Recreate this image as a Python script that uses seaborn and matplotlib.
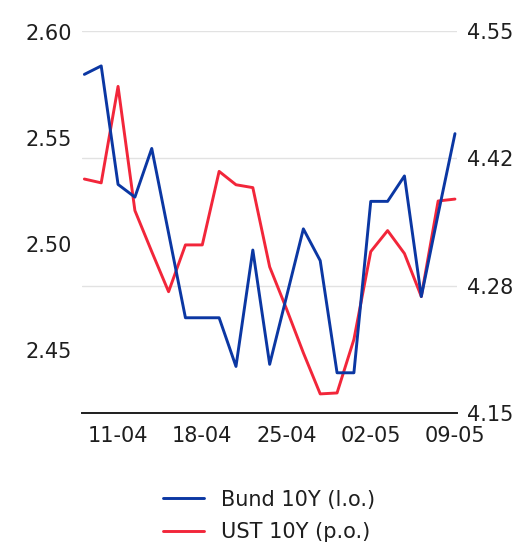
import pandas as pd
import seaborn as sns
import matplotlib.pyplot as plt

# business days 09-04 .. 09-05
dates = ['09-04', '10-04', '11-04', '14-04', '15-04', '16-04', '17-04', '18-04',
         '21-04', '22-04', '23-04', '24-04', '25-04', '28-04', '29-04', '30-04',
         '01-05', '02-05', '05-05', '06-05', '07-05', '08-05', '09-05']
bund_10y = [2.580, 2.584, 2.528, 2.522, 2.545, 2.505, 2.465, 2.465, 2.465, 2.442,
            2.497, 2.443, 2.475, 2.507, 2.492, 2.439, 2.439, 2.520, 2.520, 2.532,
            2.475, 2.514, 2.552]
ust_10y = [4.395, 4.391, 4.492, 4.362, 4.319, 4.277, 4.326, 4.326, 4.403, 4.389,
           4.386, 4.303, 4.259, 4.213, 4.170, 4.171, 4.227, 4.319, 4.341, 4.317,
           4.272, 4.372, 4.374]
tick_dates = ['11-04', '18-04', '25-04', '02-05', '09-05']
left_ticks = [2.45, 2.50, 2.55, 2.60]
right_ticks = [4.15, 4.2833, 4.4167, 4.55]
right_labels = ['4.15', '4.28', '4.42', '4.55']

df = pd.DataFrame({'pos': range(len(dates)), 'date': dates,
                   'bund': bund_10y, 'ust': ust_10y})

sns.set_theme(style='white')
plt.rcParams['font.family'] = ['DejaVu Sans']
text_col = '#1e1e1e'
blue = '#0b37a3'
red = '#f2263a'

fig = plt.figure(figsize=(5.14, 5.43), dpi=100)
ax = fig.add_axes([82 / 514, 130 / 543, 375 / 514, 382 / 543])
ax2 = ax.twinx()

sns.lineplot(data=df, x='pos', y='ust', ax=ax2, color=red, linewidth=2.1,
             label='UST 10Y (p.o.)', legend=False)
sns.lineplot(data=df, x='pos', y='bund', ax=ax, color=blue, linewidth=2.1,
             label='Bund 10Y (l.o.)', legend=False)

# blue on top of red
ax.set_zorder(ax2.get_zorder() + 1)
ax.patch.set_visible(False)

ax.set_xlim(-0.14, 22.12)
ax.set_ylim(2.420, 2.6005)
ax2.set_ylim(4.15, 4.55)

ax.set_yticks(left_ticks)
ax.set_yticklabels([f'{v:.2f}' for v in left_ticks])
ax2.set_yticks(right_ticks)
ax2.set_yticklabels(right_labels)
ax.set_xticks([dates.index(d) for d in tick_dates])
ax.set_xticklabels(tick_dates)

ax2.grid(axis='y', color='#e2e2e2', linewidth=1.0)
ax2.set_axisbelow(True)
ax.grid(False)

for s in ['left', 'right', 'top']:
    ax.spines[s].set_visible(False)
for s in ax2.spines.values():
    s.set_visible(False)
ax.spines['bottom'].set_color(text_col)
ax.spines['bottom'].set_linewidth(1.4)

ax.tick_params(axis='y', length=0, pad=7, labelsize=15, labelcolor=text_col)
ax2.tick_params(axis='y', length=0, pad=7, labelsize=15, labelcolor=text_col)
ax.tick_params(axis='x', direction='in', length=7, width=1.0, color=text_col,
               pad=9, labelsize=15, labelcolor=text_col)
ax.set_xlabel('')
ax.set_ylabel('')
ax2.set_ylabel('')

h1, l1 = ax.get_legend_handles_labels()
h2, l2 = ax2.get_legend_handles_labels()
fig.legend(h1 + h2, l1 + l2, loc='upper center', bbox_to_anchor=(269 / 514, 1 - 471 / 543),
           frameon=False, fontsize=15, handlelength=2.0, handletextpad=0.8,
           labelspacing=0.6, labelcolor=text_col)

fig.savefig('out.png', dpi=100)
